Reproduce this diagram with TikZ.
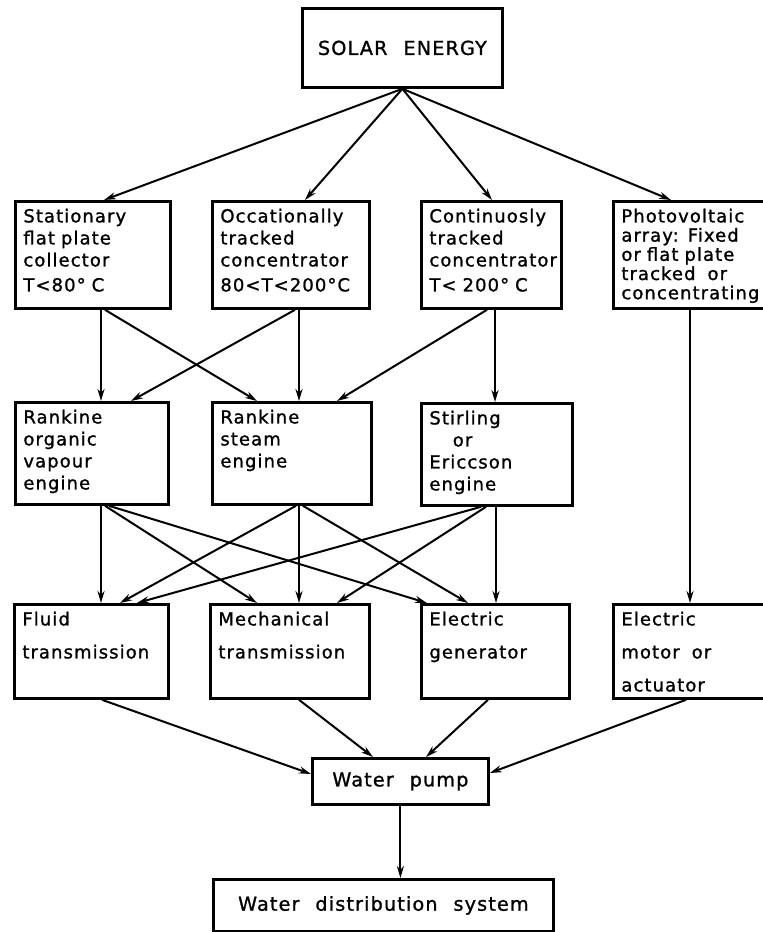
\documentclass[tikz,border=0pt]{standalone}
\usepackage{fontspec}
\setmainfont{DejaVu Sans}[LetterSpace=6,WordSpace=2.2,FakeBold=1.2]
\usetikzlibrary{arrows.meta,calc}
\newcommand{\lettering}{\fontsize{9}{11}\selectfont}

\begin{document}
\begin{tikzpicture}[x=0.5pt,y=-0.5pt,
  blk/.style={draw,line width=1.4pt,anchor=north west,align=left,inner xsep=4pt,inner ysep=2pt,text height=8.5pt,font=\lettering},
  rowone/.style={blk,text depth=41pt},
  rowtwo/.style={blk,text depth=38.5pt},
  rowthree/.style={blk,text depth=34.5pt,font=\fontsize{9}{16.5}\selectfont},
  framebox/.style={draw,line width=1.4pt,anchor=north west,font=\fontsize{9.6}{11}\selectfont},
  feed/.style={line width=1pt,-{Stealth[length=6pt,width=3.5pt]}}]
\useasboundingbox (0,0) rectangle (762,932);

\node[framebox,minimum width=100pt,minimum height=39.5pt] (solar) at (301,7) {SOLAR ENERGY};

% collectors
\node[rowone,text width=69.5pt] (stat) at (14,200) {Stationary\\flat plate\\collector\\[1.5pt]T<80° C};
\node[rowone,text width=70.5pt] (occ) at (211,200) {Occationally\\tracked\\concentrator\\[1.5pt]80<T<200°C};
\node[rowone,text width=62pt] (cont) at (420,200) {Continuosly\\tracked\\concentrator\\[1.5pt]T< 200° C};
\node[rowone,text width=70pt,font=\fontsize{9}{9.6}\selectfont] (pv) at (612,200) {Photovoltaic\\array: Fixed\\or flat plate\\tracked\ \ or\\concentrating};

% engines
\node[rowtwo,text width=68.5pt] (rorg) at (14,401) {Rankine\\organic\\vapour\\engine};
\node[rowtwo,text width=71.5pt] (rsteam) at (211,401) {Rankine\\steam\\engine};
\node[rowtwo,text width=67.5pt] (stir) at (420,402) {Stirling\\\hspace*{1.3em}or\\Ericcson\\engine};

% transmissions
\node[rowthree,text width=69pt] (fluid) at (13,603) {Fluid\\transmission};
\node[rowthree,text width=71.5pt] (mech) at (209,603) {Mechanical\\transmission};
\node[rowthree,text width=66pt] (egen) at (420,603) {Electric\\generator};
\node[rowthree,text width=70pt] (motor) at (612,603) {Electric\\motor\ \ or\\actuator};

\node[framebox,minimum width=88pt,minimum height=23pt] (pump) at (311,757) {Water pump};
\node[framebox,minimum width=170pt,minimum height=26pt] (dist) at (212,878) {Water distribution system};

\draw[feed] (solar.south) -- ($(stat.north west)+(90,0)$);
\draw[feed] (solar.south) -- ($(occ.north west)+(94,0)$);
\draw[feed] (solar.south) -- ($(cont.north west)+(72,0)$);
\draw[feed] (solar.south) -- ($(pv.north west)+(59,0)$);

\draw[feed] ($(stat.south west)+(87,0)$) -- ($(rorg.north west)+(87,0)$);
\draw[feed] ($(stat.south west)+(91,0)$) -- ($(rsteam.north west)+(46,0)$);
\draw[feed] ($(occ.south west)+(88,0)$) -- ($(rsteam.north west)+(88,0)$);
\draw[feed] ($(occ.south west)+(84,0)$) -- ($(rorg.north west)+(117,0)$);
\draw[feed] ($(cont.south west)+(75,0)$) -- ($(stir.north west)+(75,0)$);
\draw[feed] ($(cont.south west)+(67,0)$) -- ($(rsteam.north west)+(126,0)$);
\draw[feed] ($(pv.south west)+(78,0)$) -- ($(motor.north west)+(78,0)$);

\draw[feed] ($(rorg.south west)+(87,0)$) -- ($(fluid.north west)+(88,0)$);
\draw[feed] ($(rorg.south west)+(91,0)$) -- ($(mech.north west)+(48,0)$);
\draw[feed] ($(rorg.south west)+(95,0)$) -- ($(egen.north west)+(7,0)$);
\draw[feed] ($(rsteam.south west)+(85,0)$) -- ($(fluid.north west)+(107,0)$);
\draw[feed] ($(rsteam.south west)+(88,0)$) -- ($(mech.north west)+(90,0)$);
\draw[feed] ($(rsteam.south west)+(92,0)$) -- ($(egen.north west)+(48,0)$);
\draw[feed] ($(stir.south west)+(61,0)$) -- ($(fluid.north west)+(124,0)$);
\draw[feed] ($(stir.south west)+(66,0)$) -- ($(mech.north west)+(128,0)$);
\draw[feed] ($(stir.south west)+(76,0)$) -- ($(egen.north west)+(76,0)$);

\draw[feed] ($(fluid.south west)+(89,0)$) -- ($(pump.north west)+(0,17)$);
\draw[feed] ($(mech.south west)+(90,0)$) -- ($(pump.north west)+(62,0)$);
\draw[feed] ($(egen.south west)+(68,0)$) -- ($(pump.north west)+(115,0)$);
\draw[feed] ($(motor.south west)+(74,0)$) -- ($(pump.north east)+(0,16)$);
\draw[feed] (pump.south) -- (pump.south |- dist.north);
\end{tikzpicture}
\end{document}
